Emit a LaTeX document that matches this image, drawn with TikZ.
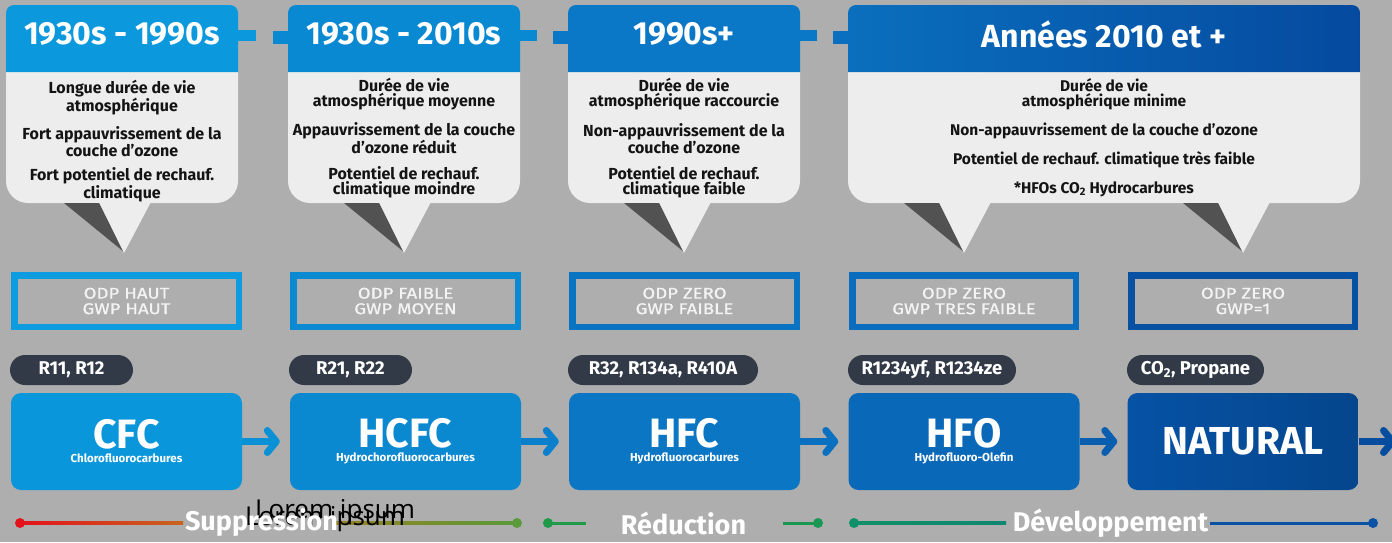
\documentclass[tikz,border=0pt]{standalone}
\usepackage{fontspec}
\setmainfont{Fira Sans}
\newfontfamily\opensans{Open Sans}
\newfontfamily\firawide[FakeStretch=1.2,FakeBold=0.8]{Fira Sans}
\usetikzlibrary{arrows.meta}
\definecolor{bg}{HTML}{AEAEAE}
\definecolor{bodyc}{HTML}{EDEDED}
\definecolor{hdrA}{HTML}{0B98DD}
\definecolor{hdrB}{HTML}{0A89D3}
\definecolor{hdrC}{HTML}{0A78C6}
\definecolor{hdrDl}{HTML}{0A6FBE}
\definecolor{hdrDr}{HTML}{054A9F}
\definecolor{frA}{HTML}{0D9CE0}
\definecolor{frB}{HTML}{0B8AD2}
\definecolor{frC}{HTML}{0A74C2}
\definecolor{frD}{HTML}{0A6DBD}
\definecolor{frE}{HTML}{0750A2}
\definecolor{bxA}{HTML}{0A96DA}
\definecolor{bxB}{HTML}{0A88D0}
\definecolor{bxC}{HTML}{0A76C4}
\definecolor{bxD}{HTML}{0A68B8}
\definecolor{bxE}{HTML}{0652A5}
\definecolor{arA}{HTML}{0A90D5}
\definecolor{arB}{HTML}{0A80CC}
\definecolor{arC}{HTML}{0A70C0}
\definecolor{arD}{HTML}{0A5EB0}
\definecolor{arE}{HTML}{064C9F}
\definecolor{pillc}{HTML}{323A48}
\definecolor{tlRed}{HTML}{E3121B}
\definecolor{tlOrange}{HTML}{C8641E}
\definecolor{tlOlive}{HTML}{8A8A22}
\definecolor{tlGreen}{HTML}{5A9A3A}
\definecolor{tlGreenB}{HTML}{1E9A48}
\definecolor{tlTeal}{HTML}{109068}
\definecolor{tlBlue}{HTML}{0A52A3}
\newcommand\bigfnt{\bfseries\fontsize{41}{42}\selectfont}
\newcommand\subfnt{\bfseries\fontsize{11.5}{12}\selectfont}
\tikzset{
  hdrtitle/.style={text=white, font=\bfseries\fontsize{32}{33}\selectfont, inner sep=0},
  bodytxt/.style={text=black!92, font=\bfseries\fontsize{16}{15}\selectfont, align=center, inner sep=0},
  bodytxtS/.style={bodytxt, font=\bfseries\fontsize{15.5}{15}\selectfont},
  odptxt/.style={text=white, text opacity=0.85, font=\firawide\fontsize{15.5}{15.5}\selectfont, align=center, inner sep=0},
  odpframe/.style={line width=6.5pt},
  pill/.style={fill=pillc, rounded corners=15pt, minimum height=30pt, inner sep=0, text=white, font=\bfseries\fontsize{18.5}{19}\selectfont},
  mainbox/.style={rounded corners=10pt, minimum width=231pt, minimum height=97pt, inner sep=0, text=white, align=center},
  flow/.style={line width=7pt, -{Straight Barb[length=9pt,width=22pt,line cap=round,line join=round]}, shorten >=10pt},
  tltxt/.style={text=white, font=\bfseries\fontsize{27}{28}\selectfont, inner sep=0},
  tldot/.style={circle, minimum size=10pt, inner sep=0},
  lorem/.style={text=black, font=\opensans\fontsize{26}{27}\selectfont, inner sep=0, anchor=base west},
}
\newcommand\mycallout[3]{%
  \fill[bodyc, rounded corners=22pt] (#1,50) -- (#1,203) -- (#2,203) -- (#2,50) -- cycle;
  \fill[#3] (#1,72) [rounded corners=8pt] -- (#1,5) -- (#2,5) [sharp corners] -- (#2,72) -- cycle;
}
\newcommand\mytail[1]{%
  \fill[black!68] (#1-60,203) -- (#1-25,203) -- (#1,252) -- cycle;
  \fill[bodyc] (#1-26,200) -- (#1+28,200) -- (#1,253) -- cycle;
}
\begin{document}
\begin{tikzpicture}[x=1pt,y=-1pt]
\useasboundingbox (0,0) rectangle (1392,542);
\fill[bg] (0,0) rectangle (1392,542);

% ---- header connectors
\fill[hdrA] (236,30) rectangle (256,41);
\fill[hdrB] (273,31) rectangle (290,44);
\fill[hdrB] (518,30) rectangle (537,41);
\fill[hdrC] (553,31) rectangle (570,44);
\fill[hdrC] (798,30) rectangle (817,41);
\fill[hdrDl] (833,31) rectangle (850,44);

% ---- callouts
\mycallout{6}{238}{hdrA}
\mycallout{288}{520}{hdrB}
\mycallout{568}{800}{hdrC}
\fill[bodyc, rounded corners=22pt] (848,50) -- (848,203) -- (1360,203) -- (1360,50) -- cycle;
\shade[left color=hdrDl, right color=hdrDr] (848,72) [rounded corners=8pt] -- (848,5) -- (1360,5) [sharp corners] -- (1360,72) -- cycle;
\mytail{124}
\mytail{404}
\mytail{684}
\mytail{964}
\mytail{1243}

\node[hdrtitle] (t1) at (122,34) {1930s - 1990s};
\node[hdrtitle] (t2) at (404,34) {1930s - 2010s};
\node[hdrtitle] (t3) at (684,34) {1990s+};
\node[hdrtitle] (t4) at (1104,34) {Années 2010 et +};

\node[bodytxt] (c1a) at (122,97.5) {Longue durée de vie\\atmosphérique};
\node[bodytxt] (c1b) at (122,141.5) {Fort appauvrissement de la\\couche d’ozone};
\node[bodytxt] (c1c) at (122,185) {Fort potentiel de rechauf.\\climatique};
\node[bodytxt] (c2a) at (404,94.5) {Durée de vie\\atmosphérique moyenne};
\node[bodytxt] (c2b) at (404,138.5) {Appauvrissement de la couche\\d’ozone réduit};
\node[bodytxt] (c2c) at (404,182.5) {Potentiel de rechauf.\\climatique moindre};
\node[bodytxt] (c3a) at (684,94.5) {Durée de vie\\atmosphérique raccourcie};
\node[bodytxt] (c3b) at (684,138.5) {Non-appauvrissement de la\\couche d’ozone};
\node[bodytxt] (c3c) at (684,182.5) {Potentiel de rechauf.\\climatique faible};
\node[bodytxtS] (c4a) at (1104,94.5) {Durée de vie\\atmosphérique minime};
\node[bodytxtS] (c4b) at (1104,131) {Non-appauvrissement de la couche d’ozone};
\node[bodytxtS] (c4c) at (1104,160) {Potentiel de rechauf. climatique très faible};
\node[bodytxtS] (c4d) at (1104,189) {*HFOs CO\textsubscript{2} Hydrocarbures};

% ---- ODP / GWP frames
\draw[odpframe, frA] (14.25,275.25) rectangle (238.75,326.75);
\draw[odpframe, frB] (293.25,275.25) rectangle (517.75,326.75);
\draw[odpframe, frC] (572.25,275.25) rectangle (796.75,326.75);
\draw[odpframe, frD] (852.25,275.25) rectangle (1075.75,326.75);
\draw[odpframe, frE] (1131.25,275.25) rectangle (1354.75,326.75);
\node[odptxt] (o1) at (126.5,301) {ODP HAUT\\GWP HAUT};
\node[odptxt] (o2) at (405.5,301) {ODP FAIBLE\\GWP MOYEN};
\node[odptxt] (o3) at (684.5,301) {ODP ZERO\\GWP FAIBLE};
\node[odptxt] (o4) at (964,301) {ODP ZERO\\GWP TRES FAIBLE};
\node[odptxt] (o5) at (1243,301) {ODP ZERO\\GWP=1};

% ---- pills
\node[pill, minimum width=123pt] (p1) at (71.5,370) {R11, R12};
\node[pill, minimum width=123pt] (p2) at (350.5,370) {R21, R22};
\node[pill, minimum width=190pt] (p3) at (663,370) {R32, R134a, R410A};
\node[pill, minimum width=168pt] (p4) at (932,370) {R1234yf, R1234ze};
\node[pill, minimum width=137pt] (p5) at (1195.5,370) {CO\textsubscript{2}, Propane};

% ---- main boxes
\node[mainbox, fill=bxA] (cfc) at (126.5,441.5) {{\bigfnt CFC}\\[2pt]{\subfnt Chlorofluorocarbures}};
\node[mainbox, fill=bxB] (hcfc) at (405.5,441.5) {{\bigfnt HCFC}\\[2pt]{\subfnt Hydrochorofluorocarbures}};
\node[mainbox, fill=bxC] (hfc) at (684.5,441.5) {{\bigfnt HFC}\\[2pt]{\subfnt Hydrofluorocarbures}};
\node[mainbox, fill=bxD] (hfo) at (964,441.5) {{\bigfnt HFO}\\[2pt]{\subfnt Hydrofluoro-Olefin}};
\node[mainbox, left color=bxE, right color=bxE!85!black] (nat) at (1243,441.5) {\bfseries\fontsize{39}{40}\selectfont NATURAL};
\coordinate (out) at (1396,441.5);

\draw[flow, arA] (cfc.east) -- (hcfc.west);
\draw[flow, arB] (hcfc.east) -- (hfc.west);
\draw[flow, arC] (hfc.east) -- (hfo.west);
\draw[flow, arD] (hfo.east) -- (nat.west);
\draw[flow, arE, shorten >=0pt] (nat.east) -- (out);

% ---- timeline
\shade[left color=tlRed, right color=tlOrange] (20,521.5) rectangle (183,524.5);
\shade[left color=tlOlive!80!tlOrange, right color=tlGreen] (336,521.5) rectangle (517,524.5);
\node[tldot, fill=tlRed] (d1) at (20,523) {};
\node[tldot, fill=tlGreen] (d2) at (517,523) {};
\fill[tlGreenB] (548,521.5) rectangle (586,524.5);
\fill[tlGreenB!70!tlTeal] (783,521.5) rectangle (818,524.5);
\node[tldot, fill=tlGreenB] (d3) at (548,523) {};
\node[tldot, fill=tlGreenB!70!tlTeal] (d4) at (818,523) {};
\shade[left color=tlTeal, right color=tlTeal!85!tlBlue] (854,521.5) rectangle (1006,524.5);
\fill[tlBlue] (1210,521.5) rectangle (1373,524.5);
\node[tldot, fill=tlTeal] (d5) at (854,523) {};
\node[tldot, fill=tlBlue] (d6) at (1373,523) {};

\node[lorem] (lorem2) at (245,525) {Lorem ipsum};
\node[lorem] (lorem1) at (255,518) {Lorem ipsum};

\node[tltxt] (sup) at (261.5,523) {Suppression};
\node[tltxt] (red) at (683.5,523) {Réduction};
\node[tltxt] (dev) at (1110.5,523) {Développement};
\end{tikzpicture}
\end{document}
